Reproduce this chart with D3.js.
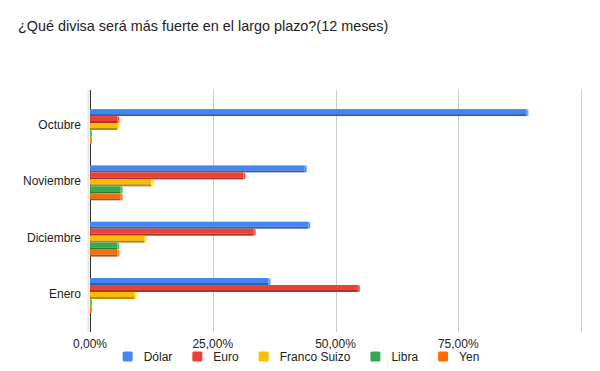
<!DOCTYPE html>
<html>
<head>
<meta charset="utf-8">
<script src="https://cdn.jsdelivr.net/npm/d3@7"></script>
<style>
  body { margin: 0; background: #fff; }
  text { font-family: "Liberation Sans", Arial, sans-serif; }
</style>
</head>
<body>
<div id="chart"></div>
<script>
// chart data
var months = ["Octubre", "Noviembre", "Diciembre", "Enero"];
var series = ["Dólar", "Euro", "Franco Suizo", "Libra", "Yen"];
var colors = ["#4285F4", "#EA4335", "#FBBC04", "#34A853", "#FF6D01"];
var dolar = [88.89, 43.75, 44.44, 36.36];
var euro = [5.56, 31.25, 33.33, 54.55];
var franco = [5.56, 12.5, 11.11, 9.09];
var libra = [0, 6.25, 5.56, 0];
var yen = [0, 6.25, 5.56, 0];
var gridValues = [25, 50, 75, 100];
var tickValues = [0, 25, 50, 75];
var tickLabels = ["0,00%", "25,00%", "50,00%", "75,00%"];
var title = "¿Qué divisa será más fuerte en el largo plazo?(12 meses)";

(function () {
    "use strict";
    var w = 600, h = 371;
    var left = 90, right = 581, top = 90, bottom = 332;
    var values = [dolar, euro, franco, libra, yen];

    var svg = d3.select('#chart').append('svg').attr('width', w).attr('height', h);

    svg.append('text').attr('x', 18).attr('y', 31)
        .attr('font-size', 14.4).attr('fill', '#222').text(title);

    var x = d3.scaleLinear().domain([0, 100]).range([left, right]);
    var y = d3.scaleBand().domain(months).range([top + 8.4, bottom - 8.4])
        .paddingInner(0.38).paddingOuter(0.19);
    var ys = d3.scaleBand().domain(series).range([0, y.bandwidth()]);

    // gridlines
    svg.selectAll('line.grid').data(gridValues).enter().append('line')
        .attr('class', 'grid')
        .attr('x1', function (d) { return Math.round(x(d)) + 0.5; })
        .attr('x2', function (d) { return Math.round(x(d)) + 0.5; })
        .attr('y1', top).attr('y2', bottom)
        .attr('stroke', '#cccccc').attr('stroke-width', 1);

    // shadow next to baseline
    svg.append('rect').attr('x', x(0) - 2.5).attr('y', top).attr('width', 2)
        .attr('height', bottom - top).attr('fill', '#e6e6e6');

    // baseline
    svg.append('line').attr('x1', x(0) + 0.5).attr('x2', x(0) + 0.5)
        .attr('y1', top).attr('y2', bottom)
        .attr('stroke', '#333').attr('stroke-width', 1);

    // bars (3d look: front, bottom shade, right cap)
    var rows = [];
    months.forEach(function (m, i) {
        series.forEach(function (s, j) {
            rows.push({ month: m, name: s, value: values[j][i], color: colors[j] });
        });
    });
    var g = svg.selectAll('g.bar').data(rows).enter().append('g').attr('class', 'bar')
        .attr('transform', function (d) {
            return 'translate(0,' + (y(d.month) + ys(d.name)) + ')';
        });
    var bh = ys.bandwidth();
    g.append('rect')
        .attr('x', x(0)).attr('y', 0)
        .attr('width', function (d) { return x(d.value) - x(0); })
        .attr('height', bh - 2)
        .attr('fill', function (d) { return d.color; });
    g.append('rect')
        .attr('x', x(0)).attr('y', bh - 2)
        .attr('width', function (d) { return x(d.value) - x(0); })
        .attr('height', 2)
        .attr('fill', function (d) { return d3.color(d.color).darker(0.9); });
    g.append('path')
        .attr('d', function (d) {
            var xe = x(d.value);
            return 'M' + xe + ',0 L' + (xe + 2) + ',0.8 L' + (xe + 2) + ',' + (bh - 0.4) +
                ' L' + xe + ',' + bh + 'Z';
        })
        .attr('fill', function (d) { return d3.color(d.color).brighter(0.6); });

    // category labels
    svg.selectAll('text.cat').data(months).enter().append('text')
        .attr('class', 'cat')
        .attr('x', 81)
        .attr('y', function (d) { return y(d) + y.bandwidth() / 2 + 2.5; })
        .attr('text-anchor', 'end').attr('font-size', 12).attr('fill', '#222')
        .text(function (d) { return d; });

    // tick labels
    svg.selectAll('text.tick').data(tickValues).enter().append('text')
        .attr('class', 'tick')
        .attr('x', function (d) { return x(d); })
        .attr('y', 348)
        .attr('text-anchor', 'middle').attr('font-size', 12).attr('fill', '#222')
        .text(function (d, i) { return tickLabels[i]; });

    // legend
    var legend = svg.append('g');
    var items = legend.selectAll('g').data(series).enter().append('g');
    items.append('rect').attr('width', 10).attr('height', 10).attr('rx', 1.5)
        .attr('y', 351.5)
        .attr('fill', function (d, i) { return colors[i]; });
    items.append('text').attr('x', 21).attr('y', 361)
        .attr('font-size', 12).attr('fill', '#222')
        .text(function (d) { return d; });
    var pos = 0, offsets = [];
    items.each(function () {
        offsets.push(pos);
        pos += 21 + this.querySelector('text').getComputedTextLength() + 20;
    });
    var total = pos - 20, start = 301 - total / 2;
    items.attr('transform', function (d, i) { return 'translate(' + (start + offsets[i]) + ',0)'; });
}());
</script>
</body>
</html>
